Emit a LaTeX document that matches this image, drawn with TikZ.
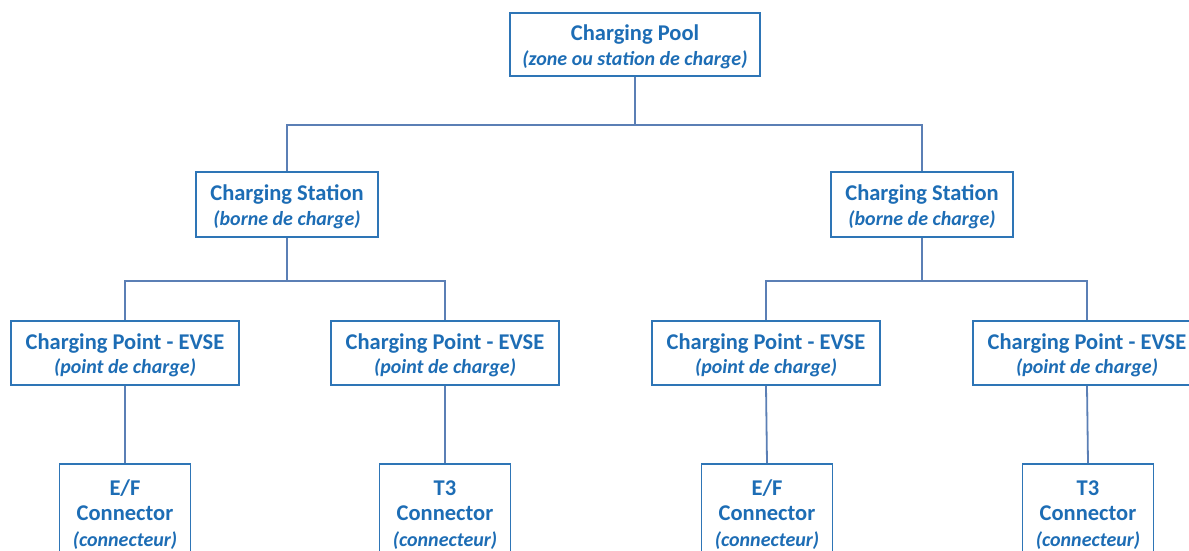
\documentclass[tikz,border=0pt]{standalone}
\usepackage{fontspec}
\setmainfont{Carlito}
\definecolor{txtblue}{HTML}{1D6DB5}
\definecolor{boxblue}{HTML}{2E75B6}
\definecolor{linkblue}{HTML}{5B7FB5}
\tikzset{
  box/.style={draw=boxblue, line width=1.8pt, fill=white, align=center, text=txtblue,
    font=\fontsize{22.5}{24.5}\selectfont\bfseries, inner sep=0pt},
  conbox/.style={box, font=\fontsize{22.5}{25.5}\selectfont\bfseries},
  link/.style={draw=linkblue, line width=1.8pt},
}
\newcommand{\sub}[1]{{\fontsize{20}{24.5}\selectfont\itshape #1}}
\newcommand{\csub}[1]{{\fontsize{20}{25.5}\selectfont\itshape #1}}
\newcommand{\dn}{\rule{0pt}{20pt}}
\begin{document}
\begin{tikzpicture}[x=1pt,y=-1pt]
\useasboundingbox (0,0) rectangle (1189,551);
\clip (0,0) rectangle (1189,551);
% nodes
\node[box, minimum width=250pt, minimum height=63pt] (pool) at (635,44.5) {\dn Charging Pool\\ \sub{(zone ou station de charge)}};
\node[box, minimum width=182pt, minimum height=65pt] (st1) at (287,204.5) {\dn Charging Station\\ \sub{(borne de charge)}};
\node[box, minimum width=182pt, minimum height=65pt] (st2) at (922,204.5) {\dn Charging Station\\ \sub{(borne de charge)}};
\node[box, minimum width=228pt, minimum height=64pt] (ev1) at (125,353) {\dn Charging Point - EVSE\\ \sub{(point de charge)}};
\node[box, minimum width=228pt, minimum height=64pt] (ev2) at (445,353) {\dn Charging Point - EVSE\\ \sub{(point de charge)}};
\node[box, minimum width=228pt, minimum height=64pt] (ev3) at (766,353) {\dn Charging Point - EVSE\\ \sub{(point de charge)}};
\node[box, minimum width=228pt, minimum height=64pt] (ev4) at (1087,353) {\dn Charging Point - EVSE\\ \sub{(point de charge)}};
\node[conbox, minimum width=131pt, minimum height=96pt] (c1) at (125,512) {\dn E/F\\ Connector\\ \csub{(connecteur)}};
\node[conbox, minimum width=131pt, minimum height=96pt] (c2) at (445,512) {\dn T3\\ Connector\\ \csub{(connecteur)}};
\node[conbox, minimum width=131pt, minimum height=96pt] (c3) at (767,512) {\dn E/F\\ Connector\\ \csub{(connecteur)}};
\node[conbox, minimum width=131pt, minimum height=96pt] (c4) at (1088,512) {\dn T3\\ Connector\\ \csub{(connecteur)}};
% junctions
\coordinate (j0) at (635,125);
\coordinate (j1) at (287,281);
\coordinate (j2) at (922,281);
% connectors
\draw[link] (pool.south) -- (j0);
\draw[link] (j0) -| (st1.north);
\draw[link] (j0) -| (st2.north);
\draw[link] (st1.south) -- (j1);
\draw[link] (j1) -| (ev1.north);
\draw[link] (j1) -| (ev2.north);
\draw[link] (st2.south) -- (j2);
\draw[link] (j2) -| (ev3.north);
\draw[link] (j2) -| (ev4.north);
\draw[link] (ev1.south) -- (c1.north);
\draw[link] (ev2.south) -- (c2.north);
\draw[link] (ev3.south) -- (c3.north);
\draw[link] (ev4.south) -- (c4.north);
\end{tikzpicture}
\end{document}
